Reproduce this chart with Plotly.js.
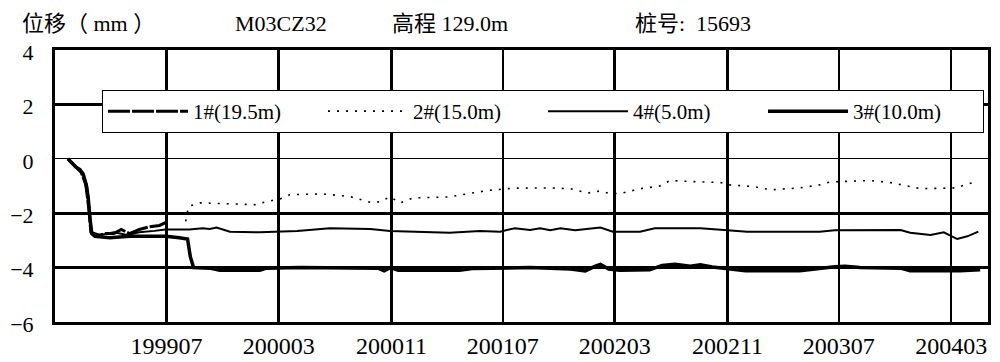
<!DOCTYPE html>
<html>
<head>
<meta charset="utf-8">
<script src="https://cdn.plot.ly/plotly-3.0.1.min.js"></script>
<style>html,body{margin:0;padding:0;background:#fff;}#chart{width:1000px;height:362px;}</style>
</head>
<body>
<div id="chart"></div>
<script>
// ---- data ----
const seriesNames = ['1#(19.5m)', '2#(15.0m)', '4#(5.0m)', '3#(10.0m)'];

const s1Dates = ['1998-11-29','1998-12-16','1998-12-28','1999-01-07','1999-01-14','1999-01-18','1999-01-27','1999-02-17','1999-03-09','1999-03-25','1999-04-12','1999-05-03','1999-05-25','1999-06-16','1999-06-29'];
const s1Vals  = [0,-0.3,-0.5,-0.95,-1.9,-2.7,-2.85,-2.75,-2.75,-2.6,-2.75,-2.6,-2.5,-2.45,-2.35];

const s2Dates = ['1999-08-12','1999-08-18','1999-09-12','1999-11-16','2000-01-14','2000-02-01','2000-03-03','2000-03-25','2000-06-05','2000-08-03','2000-09-16','2000-10-07','2000-10-29','2000-11-20','2000-12-18','2001-03-07','2001-04-27','2001-05-27','2001-07-22','2001-10-12','2001-11-25','2002-01-01','2002-01-29','2002-02-20','2002-03-18','2002-04-25','2002-06-07','2002-06-29','2002-09-03','2002-10-16','2002-11-07','2002-12-27','2003-02-03','2003-04-07','2003-05-20','2003-06-12','2003-09-07','2003-10-20','2003-11-22','2003-12-25','2004-03-10','2004-04-05','2004-04-22'];
const s2Vals  = [-2.3,-1.75,-1.62,-1.65,-1.69,-1.58,-1.48,-1.32,-1.29,-1.39,-1.6,-1.58,-1.4,-1.62,-1.44,-1.4,-1.26,-1.17,-1.08,-1.07,-1.1,-1.26,-1.18,-1.29,-1.26,-1.1,-1.0,-0.8,-0.85,-0.87,-0.96,-1.02,-1.14,-1.07,-0.96,-0.85,-0.8,-0.87,-0.98,-1.1,-1.07,-0.92,-0.85];

const s4Dates = ['1998-11-29','1998-12-16','1999-01-01','1999-01-10','1999-01-16','1999-01-20','1999-02-07','1999-03-09','1999-04-07','1999-05-03','1999-06-05','1999-06-29','1999-08-20','1999-09-18','1999-10-03','1999-10-18','1999-11-16','2000-01-20','2000-04-10','2000-06-10','2000-06-20','2000-09-16','2000-10-29','2001-03-07','2001-05-12','2001-06-25','2001-07-27','2001-08-29','2001-09-20','2001-10-12','2001-11-03','2001-12-05','2002-01-29','2002-02-25','2002-04-25','2002-05-27','2002-09-03','2002-10-10','2002-12-14','2003-05-20','2003-06-22','2003-11-12','2003-12-03','2004-01-16','2004-02-14','2004-03-14','2004-04-05','2004-04-29'];
const s4Vals  = [0,-0.3,-0.55,-1.0,-2.2,-2.7,-2.8,-2.7,-2.8,-2.7,-2.65,-2.6,-2.6,-2.55,-2.58,-2.53,-2.68,-2.7,-2.65,-2.58,-2.55,-2.58,-2.65,-2.72,-2.65,-2.68,-2.55,-2.62,-2.55,-2.63,-2.55,-2.63,-2.53,-2.68,-2.68,-2.55,-2.55,-2.6,-2.68,-2.68,-2.63,-2.62,-2.72,-2.8,-2.7,-2.95,-2.85,-2.68];

const s3Dates = ['1998-11-29','1998-12-07','1998-12-16','1998-12-25','1999-01-01','1999-01-07','1999-01-12','1999-01-16','1999-01-20','1999-01-27','1999-02-28','1999-04-12','1999-05-25','1999-06-29','1999-07-29','1999-08-16','1999-08-22','1999-08-29','1999-10-03','1999-10-25','2000-01-20','2000-02-03','2000-04-16','2000-07-12','2000-10-03','2000-10-16','2000-10-29','2000-11-16','2001-03-29','2001-04-25','2001-08-29','2001-11-25','2001-12-27','2002-01-18','2002-01-29','2002-02-16','2002-03-12','2002-05-16','2002-06-12','2002-07-10','2002-08-12','2002-09-03','2002-09-29','2002-11-07','2002-12-10','2003-04-07','2003-05-10','2003-06-22','2003-07-14','2003-08-16','2003-11-12','2003-12-03','2004-03-20','2004-05-03'];
const s3Vals  = [0,-0.15,-0.3,-0.4,-0.55,-0.9,-1.4,-2.2,-2.75,-2.85,-2.9,-2.85,-2.85,-2.85,-2.9,-2.95,-3.6,-4.0,-4.02,-4.1,-4.1,-4.02,-4.0,-4.0,-4.02,-4.12,-4.0,-4.1,-4.1,-4.03,-4.0,-4.05,-4.12,-3.95,-3.88,-4.05,-4.1,-4.08,-3.92,-3.88,-3.95,-3.9,-3.98,-4.05,-4.12,-4.12,-4.05,-3.97,-3.95,-4.0,-4.02,-4.12,-4.12,-4.08];

const tickDates  = ['1999-07-01','2000-03-01','2000-11-01','2001-07-01','2002-03-01','2002-11-01','2003-07-01','2004-03-01'];
const tickLabels = ['199907','200003','200011','200107','200203','200211','200307','200403'];
const xRange = ['1998-11-01','2004-05-20'];
const yTicks = [-6,-4,-2,0,2,4];

const headerTexts = ['位移（ mm ）', 'M03CZ32', '高程 129.0m', '桩号:  15693'];

// ---- chart ----
const serif = '"Liberation Serif", "DejaVu Serif", "Noto Sans CJK SC", serif';
const traces = [
  {x: s1Dates, y: s1Vals, name: seriesNames[0], mode: 'lines', line: {color: '#000', width: 3, dash: '22px,2px'}},
  {x: s2Dates, y: s2Vals, name: seriesNames[1], mode: 'lines', line: {color: '#000', width: 1.6, dash: '2px,7px'}},
  {x: s4Dates, y: s4Vals, name: seriesNames[2], mode: 'lines', line: {color: '#000', width: 2}},
  {x: s3Dates, y: s3Vals, name: seriesNames[3], mode: 'lines', line: {color: '#000', width: 3.5}}
];

const hx = [-0.0375, 0.1908, 0.359, 0.6195];
const annotations = headerTexts.map((t, i) => ({
  text: t, xref: 'paper', yref: 'paper', x: hx[i], y: 1.098, xanchor: 'left', yanchor: 'middle',
  showarrow: false, font: {family: serif, size: 22, color: '#000'}
}));

const layout = {
  width: 1000, height: 362,
  margin: {l: 55, r: 12, t: 50, b: 40},
  paper_bgcolor: '#fff', plot_bgcolor: '#fff',
  showlegend: true,
  legend: {
    orientation: 'h', x: 0.0504, y: 0.853, xanchor: 'left', yanchor: 'top',
    bgcolor: '#fff', bordercolor: '#000', borderwidth: 1,
    font: {family: serif, size: 21, color: '#000'},
    entrywidth: 125, entrywidthmode: 'pixels', itemwidth: 80
  },
  xaxis: {
    type: 'date', range: xRange,
    tickvals: tickDates, ticktext: tickLabels, ticks: '',
    showgrid: true, gridcolor: '#000', gridwidth: 2.5,
    showline: true, linecolor: '#000', linewidth: 3, mirror: true,
    tickfont: {family: serif, size: 24, color: '#000'},
    ticklabelstandoff: 0, zeroline: false
  },
  yaxis: {
    range: [-6, 4], tickvals: yTicks, ticks: '',
    showgrid: true, gridcolor: '#000', gridwidth: 3,
    zeroline: true, zerolinecolor: '#000', zerolinewidth: 1,
    showline: true, linecolor: '#000', linewidth: 3, mirror: true,
    tickfont: {family: serif, size: 22, color: '#000'},
    ticklabelstandoff: 14, ticklabelshift: 2
  },
  annotations: annotations
};

Plotly.newPlot('chart', traces, layout, {staticPlot: true, displayModeBar: false});
</script>
</body>
</html>
